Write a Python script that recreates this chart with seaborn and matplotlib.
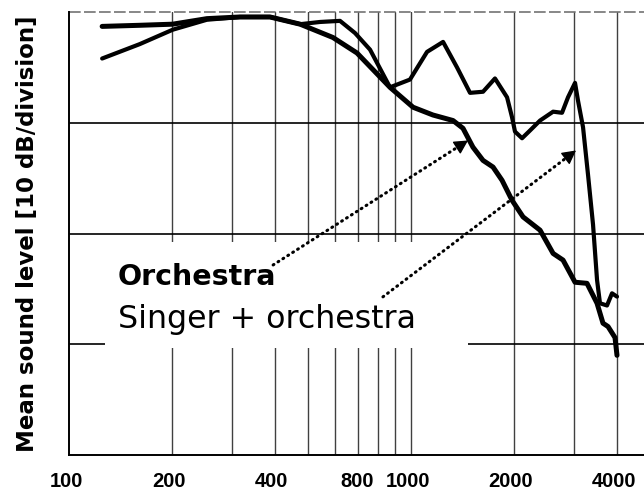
import matplotlib
matplotlib.use("Agg")
import matplotlib.pyplot as plt
import numpy as np
import pandas as pd
import seaborn as sns
from matplotlib.patches import Rectangle
from matplotlib.transforms import ScaledTranslation

# Long-term average spectra (level in dB relative to the top grid line)
freq_orchestra = [125, 161, 201, 253, 316, 387, 474, 591, 695, 868, 1014, 1159,
                  1327, 1419, 1517, 1624, 1737, 1846, 1974, 2126, 2384, 2603,
                  2783, 3017, 3270, 3499, 3642, 3767, 3949, 4002]
level_orchestra = [-1.3, -1.2, -1.1, -0.6, -0.45, -0.45, -1.1, -2.3, -3.7, -6.8,
                   -8.6, -9.3, -9.8, -10.5, -12.2, -13.4, -14.0, -15.2, -17.0,
                   -18.5, -19.7, -21.8, -22.4, -24.4, -24.5, -26.3, -28.1,
                   -28.4, -29.4, -31.0]

freq_singer = [125, 161, 201, 253, 316, 387, 474, 542, 620, 686, 759, 868, 993,
               1114, 1241, 1363, 1488, 1624, 1760, 1909, 1974, 2014, 2112, 2228,
               2384, 2603, 2764, 2878, 3017, 3078, 3184, 3293, 3406, 3499, 3569,
               3742, 3870, 4002]
level_singer = [-4.2, -2.9, -1.6, -0.7, -0.45, -0.45, -1.1, -0.9, -0.8, -1.9,
                -3.4, -6.8, -6.1, -3.6, -2.7, -5.0, -7.3, -7.2, -6.0, -7.7,
                -9.5, -10.8, -11.4, -10.7, -9.8, -9.0, -9.1, -7.7, -6.4, -8.0,
                -10.4, -14.7, -19.2, -24.2, -26.3, -26.5, -25.4, -25.7]

grid_freqs = [200, 300, 400, 500, 600, 700, 800, 900, 1000, 2000, 3000, 4000]
grid_levels = [-10, -20, -30]
tick_freqs = [100, 200, 400, 800, 1000, 2000, 4000]
tick_labels = ["100", "200", "400", "800", "1000", "2000", "4000"]

label_orchestra = "Orchestra"
label_singer = "Singer + orchestra"
y_title = "Mean sound level [10 dB/division]"

sns.set_style("white")
plt.rcParams["font.family"] = ["DejaVu Sans"]
plt.rcParams["text.color"] = "black"
plt.rcParams["axes.labelcolor"] = "black"
plt.rcParams["xtick.color"] = "black"

fig = plt.figure(figsize=(6.44, 4.91), dpi=100)
ax = fig.add_axes([69 / 644, 36 / 491, 575 / 644, 443 / 491])

df_o = pd.DataFrame({"freq": freq_orchestra, "level": level_orchestra})
df_s = pd.DataFrame({"freq": freq_singer, "level": level_singer})

sns.lineplot(data=df_o, x="freq", y="level", ax=ax, color="black", lw=3.6,
             estimator=None, sort=False, zorder=5, solid_joinstyle="round",
             solid_capstyle="round")
sns.lineplot(data=df_s, x="freq", y="level", ax=ax, color="black", lw=3.0,
             estimator=None, sort=False, zorder=5, solid_joinstyle="round",
             solid_capstyle="round")

ax.set_xscale("log")
ax.set_xlim(100, 4800)
ax.set_ylim(-40, 0)

# grid
for f in grid_freqs:
    ax.axvline(f, color="0.25", lw=1.0, zorder=1)
for lv in grid_levels:
    ax.axhline(lv, color="black", lw=1.2, zorder=1)
ax.axhline(0, color="0.45", lw=1.2, ls=(0, (7, 2)), zorder=1, clip_on=False)

# blank panel behind the curve labels
ax.add_patch(Rectangle((0.0626, 0.2415), 0.6313, 0.2393, transform=ax.transAxes,
                       facecolor="white", edgecolor="none", zorder=2))

for s in ["top", "right"]:
    ax.spines[s].set_visible(False)
for s in ["left", "bottom"]:
    ax.spines[s].set_color("black")
    ax.spines[s].set_linewidth(1.4)

ax.set_yticks([])
ax.set_xticks(tick_freqs)
ax.set_xticklabels(tick_labels)
ax.xaxis.set_minor_locator(matplotlib.ticker.NullLocator())
ax.tick_params(axis="x", length=0, pad=12)
for lab in ax.get_xticklabels():
    lab.set_fontfamily("Liberation Sans")
    lab.set_fontweight("bold")
    lab.set_fontsize(14.5)
    lab.set_color("black")
    shift = -21 if lab.get_text() == "800" else -3
    lab.set_transform(lab.get_transform() + ScaledTranslation(shift / 100, 0, fig.dpi_scale_trans))

ax.set_xlabel("")
ax.set_ylabel(y_title, fontsize=16.5, fontweight="bold", family="DejaVu Sans",
              color="black")
ax.yaxis.set_label_coords(-0.052, 0.5)

ax.text(0.0852, 0.384, label_orchestra, transform=ax.transAxes, fontsize=20.5,
        fontweight="bold", va="baseline", ha="left", zorder=6, color="black")
ax.text(0.0852, 0.2867, label_singer, transform=ax.transAxes, fontsize=22.8,
        va="baseline", ha="left", zorder=6, color="black")


def pointer(tip, tail_axes):
    """Dotted leader from a label to a curve, ending in a small solid head."""
    tip_px = ax.transData.transform(tip)
    tail_px = ax.transAxes.transform(tail_axes)
    d = tip_px - tail_px
    d = d / np.hypot(*d)
    ax.annotate("", xy=tip, xycoords="data", xytext=tail_axes,
                textcoords="axes fraction", zorder=6,
                arrowprops=dict(arrowstyle="-", lw=2.2, color="black",
                                linestyle=(0, (0.3, 1.6)), capstyle="round",
                                shrinkA=0, shrinkB=7))
    back = -d * 11 * 72 / fig.dpi
    ax.annotate("", xy=tip, xycoords="data", xytext=(back[0], back[1]),
                textcoords="offset points", zorder=6,
                arrowprops=dict(arrowstyle="-|>,head_length=0.6,head_width=0.32",
                                lw=1.0, color="black", shrinkA=0, shrinkB=0,
                                mutation_scale=14))


pointer((1468, -11.6), (0.355, 0.429))
pointer((3037, -12.5), (0.546, 0.357))

fig.savefig("out.png", dpi=100, facecolor="white")
